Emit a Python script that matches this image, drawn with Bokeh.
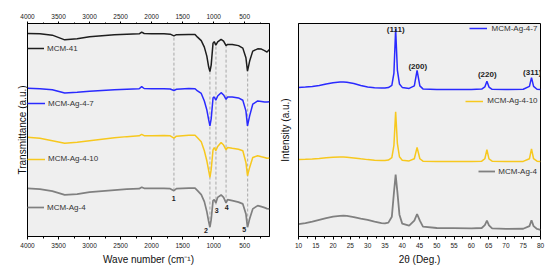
from bokeh.plotting import figure
from bokeh.models import (Range1d, LinearAxis, SingleIntervalTicker, FixedTicker,
                          Legend, LegendItem, Label)
from bokeh.layouts import row
from bokeh.embed import file_html
from bokeh.resources import INLINE
from bokeh.core.properties import value

FONT = "Liberation Sans"

# ---------------- FTIR data (panel A) ----------------
wavenumber = [4000, 3800, 3600, 3400, 3200, 3000, 2800, 2600, 2400, 2200, 2160, 2120,
              2000, 1800, 1700, 1640, 1600, 1400, 1300, 1260, 1200, 1150, 1110, 1080,
              1060, 1040, 1010, 990, 965, 935, 880, 840, 800, 775, 700, 600, 530, 480,
              455, 420, 370, 290, 230, 180, 140, 100]
ftir_mcm41 = [203.7, 203.3, 202, 197.3, 198.5, 200.5, 201.5, 202.3, 203, 203.3, 205, 203.7,
              203.3, 203.3, 203, 201.3, 202.5, 202.7, 202.7, 200, 196.5, 190, 181, 170,
              165.5, 172, 194, 195.5, 192, 195.3, 197.7, 196, 191.5, 192.7, 192.7, 191.5, 189, 179.3,
              166, 176, 186, 188.3, 188, 186.5, 185, 187.7]
ftir_ag47 = [148.7, 148.3, 147.3, 144, 144.8, 145.7, 146.5, 147.2, 147.8, 148.2, 150.3, 148.5,
             148.2, 148.2, 148, 146.5, 147.7, 148.5, 148.3, 146, 143.5, 136, 127, 117,
             111, 118, 139, 140, 136.7, 141, 144.3, 142, 137.7, 140, 140, 139, 136.7, 126,
             111, 121, 132.7, 136, 135.5, 135, 135, 135.3]
ftir_ag410 = [99.5, 98.5, 96, 93.5, 94.5, 96, 97.5, 99, 100.2, 101, 102.5, 101.2,
              101.2, 101.3, 101, 98.7, 100.7, 101.5, 101.5, 99, 95, 86, 76, 66,
              59.3, 67, 87, 89.3, 86, 90.3, 94.3, 91.7, 87, 89.3, 88.5, 87.5, 86, 74.3,
              61, 69.3, 79.3, 81, 80, 79.3, 78.5, 78.7]
ftir_ag4 = [48.3, 47.5, 45.5, 41.7, 42.5, 44.5, 45.5, 46.5, 47.5, 48, 49.5, 48.3,
            48.2, 48.2, 48, 46, 48, 48.5, 48.5, 46, 42, 35, 25, 15,
            9.3, 17, 36, 37, 33.7, 39.3, 41.7, 39.3, 33.7, 37, 36, 34.5, 32.7, 22.7,
            9.3, 17.7, 27.7, 31, 30, 29, 28, 27.7]

band_positions = [1640, 1060, 963, 800, 452]
band_top = [201, 168, 192, 192, 166]
band_bottom = [46, 12, 32, 34, 10]
band_labels = ["1", "2", "3", "4", "5"]
band_label_x = [1645, 1124, 952, 790, 506]
band_label_y = [38.3, 6, 26, 28.7, 7]

# ---------------- XRD data (panel B) ----------------
two_theta = [10, 12, 14, 16, 18, 20, 22, 23, 24, 26, 28, 30, 32, 34, 35, 36, 37, 37.6, 38.1,
             38.6, 39.2, 40, 42, 43.5, 44.3, 45.1, 46, 50, 55, 60, 63, 63.9, 64.5, 65.1, 66,
             70, 75, 76.8, 77.4, 78, 79, 80]
xrd_ag47 = [150.4, 150.8, 151.5, 152.5, 154, 155.3, 156, 156, 155.8, 154.5, 152.5, 151, 150.2,
            149.8, 149.8, 150.3, 152.5, 165, 209.4, 168, 154, 150.5, 149.5, 152, 167.7, 152,
            149, 148.5, 148.4, 148.4, 148.8, 151, 156.7, 150.8, 148.6, 148.4, 148.6, 151.5,
            160.4, 151.5, 148.6, 148.4]
xrd_ag410 = [77.7, 77.9, 78.3, 78.8, 79.4, 79.9, 80.2, 80.2, 80, 79.3, 78.4, 77.6, 77, 76.7,
             76.7, 77.2, 79.5, 92, 126, 94, 80.5, 77, 76.3, 78.5, 90, 78.5, 76, 75.8, 75.7,
             75.7, 76, 78.5, 87.7, 78.3, 76, 75.7, 75.8, 78.5, 88.4, 78.5, 76, 75.7]
xrd_ag4 = [12.4, 13.5, 15, 16.8, 18.6, 20, 20.9, 21, 20.8, 19.6, 18, 16.7, 15, 13.6, 13.2,
           14, 20, 44, 62.4, 45, 22, 13, 11, 16, 22.7, 16, 10, 8.6, 8.4, 8.2, 8.6,
           11.5, 16, 11.2, 8.2, 7.6, 7.8, 10.5, 16.4, 10.5, 7.6, 6.7]

hkl_labels = ["(111)", "(200)", "(220)", "(311)"]
hkl_x = [38.1, 44.5, 64.6, 77.6]
hkl_y = [209.4, 171.7, 163.7, 166]

C_BLACK = "#1e1e1e"
C_BLUE = "#2a2aff"
C_YELLOW = "#f7c81e"
C_GRAY = "#808080"
BG = "#efefef"


def style_axis(ax, size="6.5px"):
    ax.major_label_text_font = FONT
    ax.major_label_text_font_size = size
    ax.major_label_text_color = "#222222"
    ax.axis_line_color = "black"
    ax.major_tick_line_color = "black"
    ax.minor_tick_line_color = "black"
    ax.major_tick_in = 0
    ax.minor_tick_in = 0
    ax.major_tick_out = 3
    ax.minor_tick_out = 2
    ax.axis_label_text_font = FONT
    ax.axis_label_text_font_style = "normal"
    ax.axis_label_text_font_size = "10px"
    ax.axis_label_text_color = "#111111"


def make_legend(fig, renderer, label, x, y, gw, standoff):
    lg = Legend(items=[LegendItem(label=label, renderers=[renderer])],
                location=(x, y), padding=0, margin=0, spacing=0,
                glyph_width=gw, glyph_height=10, label_height=10,
                label_standoff=standoff, label_text_font=FONT,
                label_text_font_size="8px", label_text_color="#333333",
                background_fill_alpha=0, border_line_alpha=0)
    fig.add_layout(lg)


# ---------------- Panel A ----------------
pA = figure(width=275, height=272, x_range=Range1d(4000, 100), y_range=Range1d(0, 213.7),
            output_backend="svg", toolbar_location=None,
            min_border_left=27, min_border_right=6, min_border_top=22, min_border_bottom=36,
            background_fill_color=BG, border_fill_color="white",
            outline_line_color="black", outline_line_width=1)
pA.grid.visible = False
pA.xaxis.ticker = SingleIntervalTicker(interval=500, num_minor_ticks=2)
pA.xaxis.axis_label = "Wave number (cm\u207b\u00b9)"
pA.xaxis.major_label_standoff = 3
pA.xaxis.axis_label_standoff = 3
style_axis(pA.xaxis[0])

topA = LinearAxis(ticker=SingleIntervalTicker(interval=500, num_minor_ticks=2))
style_axis(topA)
topA.major_label_standoff = 3
topA.major_tick_out = 2
topA.minor_tick_out = 1
pA.add_layout(topA, "above")

pA.yaxis.ticker = FixedTicker(ticks=[])
pA.yaxis.axis_label = "Transmittance (a.u.)"
style_axis(pA.yaxis[0])
pA.yaxis.major_tick_out = 0
pA.yaxis.minor_tick_out = 0
pA.yaxis.major_label_standoff = 0
pA.yaxis.axis_label_standoff = 0

pA.segment(x0=band_positions, y0=band_bottom, x1=band_positions, y1=band_top,
           line_color="#a8a8a8", line_dash="3 2", line_width=1)

rA1 = pA.line(wavenumber, ftir_mcm41, line_color=C_BLACK, line_width=1.5)
rA2 = pA.line(wavenumber, ftir_ag47, line_color=C_BLUE, line_width=1.5)
rA3 = pA.line(wavenumber, ftir_ag410, line_color=C_YELLOW, line_width=1.5)
rA4 = pA.line(wavenumber, ftir_ag4, line_color=C_GRAY, line_width=1.7)

pA.text(x=band_label_x, y=band_label_y, text=band_labels, text_font=value(FONT),
        text_font_size="7px", text_font_style="bold", text_color="#222222",
        text_align="center", text_baseline="middle")

make_legend(pA, rA1, "MCM-41", 0, 183, 17, 3)
make_legend(pA, rA2, "MCM-Ag-4-7", 0, 127.7, 18, 3)
make_legend(pA, rA3, "MCM-Ag-4-10", 0, 72.3, 18, 3)
make_legend(pA, rA4, "MCM-Ag-4", 0, 24, 17, 3)

pA.add_layout(Label(x=-20, y=207.7, x_units="screen", y_units="screen", text="A)",
                    text_font=FONT, text_font_size="12.5px", text_color="#111111",
                    text_baseline="middle"))

# ---------------- Panel B ----------------
pB = figure(width=275, height=272, x_range=Range1d(10, 80), y_range=Range1d(0, 215),
            output_backend="svg", toolbar_location=None,
            min_border_left=23, min_border_right=10, min_border_top=23, min_border_bottom=34,
            background_fill_color=BG, border_fill_color="white",
            outline_line_color="black", outline_line_width=1)
pB.grid.visible = False
pB.xaxis.ticker = SingleIntervalTicker(interval=5, num_minor_ticks=2)
pB.xaxis.axis_label = "2\u03b8 (Deg.)"
pB.xaxis.major_label_standoff = 3
pB.xaxis.axis_label_standoff = 3
style_axis(pB.xaxis[0])

pB.yaxis.ticker = FixedTicker(ticks=[])
pB.yaxis.axis_label = "Intensity (a.u.)"
style_axis(pB.yaxis[0])
pB.yaxis.major_tick_out = 0
pB.yaxis.minor_tick_out = 0
pB.yaxis.major_label_standoff = 0
pB.yaxis.axis_label_standoff = 8

rB1 = pB.line(two_theta, xrd_ag47, line_color=C_BLUE, line_width=1.5)
rB2 = pB.line(two_theta, xrd_ag410, line_color=C_YELLOW, line_width=1.5)
rB3 = pB.line(two_theta, xrd_ag4, line_color=C_GRAY, line_width=1.8)

pB.text(x=hkl_x, y=hkl_y, text=hkl_labels, text_font=value(FONT),
        text_font_size="8px", text_font_style="bold", text_color="#222222",
        text_align="center", text_baseline="middle")

make_legend(pB, rB1, "MCM-Ag-4-7", 170.6, 202.7, 18, 5)
make_legend(pB, rB2, "MCM-Ag-4-10", 167.3, 130.4, 18, 4)
make_legend(pB, rB3, "MCM-Ag-4", 180.3, 60, 17, 3)

pB.add_layout(Label(x=-21, y=209.4, x_units="screen", y_units="screen", text="B)",
                    text_font=FONT, text_font_size="12.5px", text_color="#111111",
                    text_baseline="middle"))

layout = row(pA, pB, spacing=0)
open("out.html", "w").write(file_html(layout, INLINE))
